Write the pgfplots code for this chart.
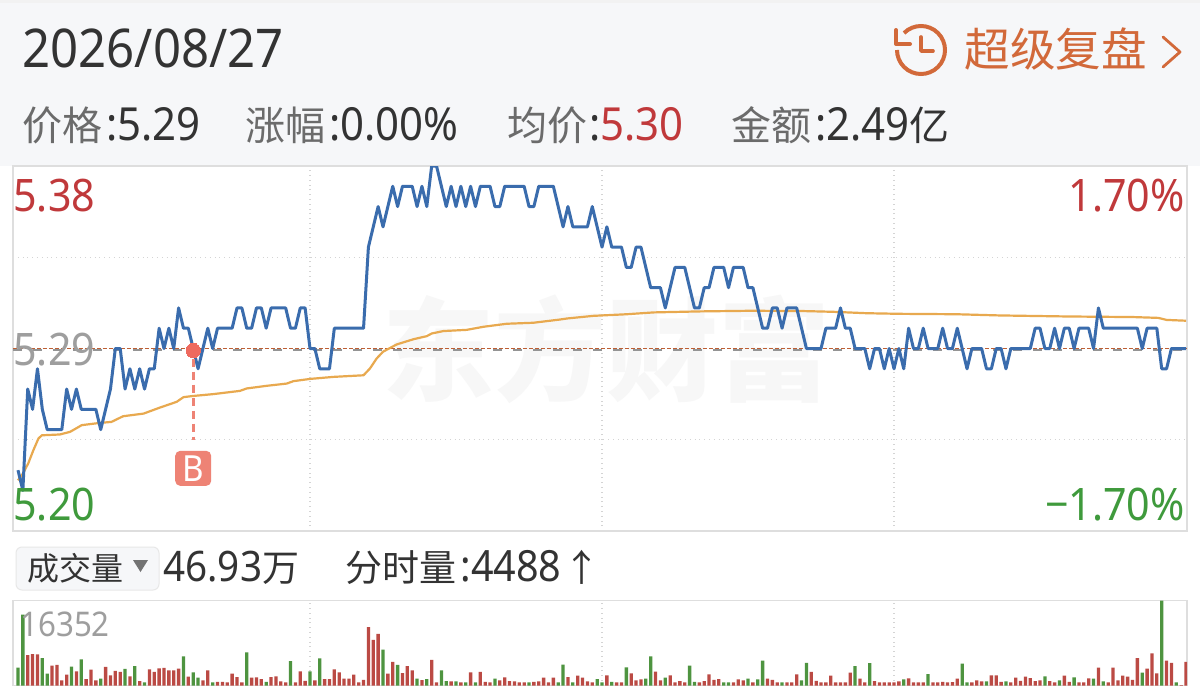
\documentclass[border=0pt]{standalone}
\usepackage{pgfplots}
\pgfplotsset{compat=1.18}
\usepackage{fontspec}
\setmainfont{Noto Sans CJK SC}
\newfontfamily\num[FakeStretch=0.92]{Noto Sans}
\newcommand\fs[1]{\fontsize{#1}{#1}\selectfont}
\definecolor{hdr}{HTML}{F6F7F9}
\definecolor{blueline}{HTML}{3A6CAD}
\definecolor{avgline}{HTML}{E8A94F}
\definecolor{upred}{HTML}{BB4A44}
\definecolor{dngreen}{HTML}{4E9440}
\definecolor{lblred}{HTML}{C0393B}
\definecolor{lblgreen}{HTML}{3F9A3C}
\definecolor{lblgray}{HTML}{9E9E9E}
\definecolor{cntxt}{HTML}{6B6B6B}
\definecolor{dark}{HTML}{333333}
\definecolor{orng}{HTML}{D2693A}
\definecolor{bord}{HTML}{DEDEDE}
\definecolor{gridc}{HTML}{D4D4D4}
\definecolor{markr}{HTML}{EE6A5F}
\definecolor{markb}{HTML}{EE8375}
\pgfplotstableread{
i v
2 5850
3 6045
4 5980
7 3835
8 3965
9 975
10 2080
12 2730
14 1235
15 3055
16 975
18 3575
19 1950
20 2795
21 2600
23 1755
25 845
27 3120
28 2600
29 3315
30 3380
31 2925
32 2925
33 3250
35 1690
38 975
39 2925
41 715
42 715
43 585
44 2275
45 1625
46 585
48 1495
49 1560
50 1235
52 1625
53 1755
54 780
55 585
57 585
58 2730
59 910
61 975
63 1235
64 1235
65 3120
66 2535
67 1300
68 1300
69 2080
70 585
71 1105
72 11245
73 8775
74 9945
76 2275
77 4550
79 2405
80 3705
81 2925
83 1040
85 4940
86 585
89 780
91 585
93 2535
95 2600
96 715
97 585
99 975
100 1560
101 845
102 780
103 585
104 585
106 715
107 780
108 1495
109 585
110 1495
113 1625
115 1885
116 1495
117 780
118 585
121 1950
123 585
124 585
126 2340
127 975
128 1170
131 2665
132 975
134 1950
135 585
136 845
137 585
140 585
141 845
142 2145
143 1105
144 1235
147 585
148 1170
149 975
151 585
154 1300
155 1105
156 585
158 585
159 585
160 2145
163 2600
164 910
165 585
166 585
167 1885
168 585
169 585
170 585
171 2470
173 1300
174 585
176 845
177 585
178 585
179 585
180 585
181 780
183 1365
184 585
185 585
186 585
188 585
189 585
190 715
191 585
192 650
193 1300
196 585
197 975
198 780
200 1950
201 1950
202 715
204 585
205 1495
206 910
207 1690
208 1430
209 845
210 975
212 845
213 585
215 1885
216 715
218 585
219 585
220 1365
222 3445
224 585
225 3445
226 975
227 1885
228 1690
229 1105
230 5265
232 3250
233 6175
234 2340
236 4810
237 4355
239 65
240 4550
}\volred
\pgfplotstableread{
i v
0 3445
1 13650
5 5265
6 2275
11 3640
13 5005
17 1300
22 3185
24 3705
26 585
34 5590
36 2535
37 1495
40 585
47 6370
51 715
56 4680
60 2730
62 5200
75 6890
78 3965
82 1300
84 1235
87 2925
88 845
90 780
92 585
94 585
98 1300
105 585
111 585
112 4030
114 585
119 1235
120 585
122 715
125 3510
129 1300
130 5590
133 1495
138 3835
139 715
145 585
146 585
150 1300
152 1170
153 4810
157 585
161 975
162 4355
172 3705
175 4290
182 1170
187 2210
194 4225
195 585
199 780
203 780
211 1755
214 975
217 1560
221 1300
223 780
231 2470
235 16352
238 585
}\volgreen
\begin{document}
\begin{tikzpicture}[x=0.5pt,y=-0.5pt]
\useasboundingbox (0,0) rectangle (1200,696);
\fill[white] (0,0) rectangle (1200,696);
\fill[hdr] (0,0) rectangle (1200,166);
\fill[black!5] (0,0) rectangle (1200,3);
% watermark
\node[anchor=center,inner sep=0,text=black!3] at (606,349) {\fs{56pt}\bfseries 东方财富};
% header text
\node[anchor=base west,inner sep=0,text=dark] at (22,68) {\num\fs{26.7pt}2026/08/27};
\node[anchor=base west,inner sep=0,text=cntxt] at (22,140) {\fs{20pt}价格\hspace{2pt}\textcolor{dark}{\num\fs{22.8pt}:5.29}};
\node[anchor=base west,inner sep=0,text=cntxt] at (245,140) {\fs{20pt}涨幅\hspace{2pt}\textcolor{dark}{\num\fs{22.8pt}:0.00\%}};
\node[anchor=base west,inner sep=0,text=cntxt] at (507,140) {\fs{20pt}均价\hspace{1pt}\textcolor{dark}{\num\fs{22.8pt}:}\textcolor{lblred}{\num\fs{22.8pt}5.30}};
\node[anchor=base west,inner sep=0,text=cntxt] at (731,140) {\fs{20pt}金额\hspace{2pt}\textcolor{dark}{\num\fs{22.8pt}:2.49\fs{20pt}\rmfamily 亿}};
\node[anchor=base west,inner sep=0,text=orng] at (964,66) {\fs{22.8pt}超级复盘};
\draw[orng,line width=1.4pt,line cap=round,line join=round] (1163,37) -- (1180,52) -- (1163,67);
\begin{scope}[shift={(921,50)},x=0.5pt,y=0.5pt]
\draw[orng,line width=2pt] (135:24) arc[start angle=135,end angle=-180,radius=12pt];
\draw[orng,line width=2pt,line cap=round,line join=round] (-25,20) -- (-25,6) -- (-11,6);
\draw[orng,line width=1.8pt,line cap=round,line join=round] (0,13) -- (0,-1) -- (12,-1);
\end{scope}
% main axis
\begin{axis}[at={(6.5pt,-265.5pt)},anchor=south west,scale only axis,width=587pt,height=182.5pt,
 xmin=-1.027,xmax=240.2,ymin=5.20,ymax=5.38,
 xtick={60,120,180},ytick={5.245,5.335},xticklabels={},yticklabels={},
 major tick length=0pt,grid=major,
 major grid style={gridc,dotted,line width=0.6pt},
 axis line style={bord,line width=0.9pt},clip=true]
\addplot[black!42,line width=1pt,dash pattern=on 4.5pt off 5.5pt,forget plot] coordinates {(-1.027,5.2895)(240.2,5.2895)};
\addplot[orng!90!black,line width=0.35pt,dash pattern=on 2pt off 1pt,forget plot] coordinates {(-1.027,5.29)(240.2,5.29)};
\addplot[avgline,line width=1.1pt,line join=round] coordinates {
(0,5.225)(1,5.2283)(2.1,5.2333)(3.15,5.2398)(4.2,5.2456)(4.9,5.2472)(8.6,5.2476)(10.7,5.2489)(13.1,5.2522)(16.8,5.2533)(19.2,5.2538)(21.6,5.2566)(25.8,5.2579)(29.2,5.2609)(32.6,5.2637)(34,5.266)(36,5.2666)(40.1,5.2675)(45.6,5.2691)(47,5.2703)(51.1,5.2716)(55.2,5.2727)(56.6,5.2739)(60,5.275)(64.8,5.276)(71,5.2768)(72.3,5.2801)(73.7,5.2851)(75,5.2884)(77.8,5.292)(81.3,5.2946)(84,5.2961)(85,5.2974)(87.4,5.2986)(92.2,5.2992)(95.6,5.3007)(100.4,5.3022)(105.9,5.3027)(111.4,5.3043)(112.8,5.3048)(118.2,5.3061)(125.1,5.3069)(130.6,5.3078)(140.2,5.3083)(150.4,5.3086)(160.7,5.3085)(167.5,5.3081)(174.4,5.3074)(181.2,5.3071)(192.8,5.3069)(201.8,5.3063)(215.5,5.3058)(229.2,5.3055)(234.3,5.3051)(236,5.3041)(240,5.3037)};
\addplot[blueline,line width=1.5pt,line join=round] coordinates {
(0,5.23)(1,5.22)(2,5.27)(3,5.26)(4,5.28)(5,5.26)(6,5.25)(7,5.25)(8,5.25)(9,5.25)
(10,5.27)(11,5.26)(12,5.27)(13,5.26)(14,5.26)(15,5.26)(16,5.26)(17,5.25)(18,5.26)(19,5.27)
(20,5.29)(21,5.29)(22,5.27)(23,5.28)(24,5.27)(25,5.28)(26,5.27)(27,5.28)(28,5.28)(29,5.30)
(30,5.29)(31,5.30)(32,5.29)(33,5.31)(34,5.30)(35,5.30)(36,5.29)(37,5.28)(38,5.29)(39,5.30)
(40,5.29)(41,5.30)(42,5.30)(43,5.30)(44,5.30)(45,5.31)(46,5.31)(47,5.30)(48,5.30)(49,5.31)
(50,5.31)(51,5.30)(52,5.31)(53,5.31)(54,5.31)(55,5.31)(56,5.30)(57,5.30)(58,5.31)(59,5.31)
(60,5.29)(61,5.29)(62,5.28)(63,5.28)(64,5.28)(65,5.30)(66,5.30)(67,5.30)(68,5.30)(69,5.30)
(70,5.30)(71,5.30)(72,5.34)(73,5.35)(74,5.36)(75,5.35)(76,5.36)(77,5.37)(78,5.36)(79,5.37)
(80,5.37)(81,5.37)(82,5.36)(83,5.37)(84,5.36)(85,5.38)(86,5.38)(87,5.37)(88,5.36)(89,5.37)
(90,5.36)(91,5.37)(92,5.36)(93,5.37)(94,5.36)(95,5.37)(96,5.37)(97,5.37)(98,5.36)(99,5.36)
(100,5.37)(101,5.37)(102,5.37)(103,5.37)(104,5.37)(105,5.36)(106,5.36)(107,5.37)(108,5.37)(109,5.37)
(110,5.37)(111,5.36)(112,5.35)(113,5.36)(114,5.35)(115,5.35)(116,5.35)(117,5.35)(118,5.36)(119,5.35)
(120,5.34)(121,5.35)(122,5.34)(123,5.34)(124,5.34)(125,5.33)(126,5.33)(127,5.34)(128,5.34)(129,5.33)
(130,5.32)(131,5.32)(132,5.32)(133,5.31)(134,5.32)(135,5.33)(136,5.33)(137,5.33)(138,5.32)(139,5.31)
(140,5.31)(141,5.32)(142,5.32)(143,5.33)(144,5.33)(145,5.33)(146,5.32)(147,5.33)(148,5.33)(149,5.33)
(150,5.32)(151,5.32)(152,5.31)(153,5.30)(154,5.30)(155,5.31)(156,5.31)(157,5.30)(158,5.31)(159,5.31)
(160,5.31)(161,5.30)(162,5.29)(163,5.29)(164,5.29)(165,5.29)(166,5.30)(167,5.30)(168,5.30)(169,5.31)
(170,5.30)(171,5.30)(172,5.29)(173,5.29)(174,5.29)(175,5.28)(176,5.29)(177,5.29)(178,5.28)(179,5.29)
(180,5.28)(181,5.29)(182,5.28)(183,5.30)(184,5.29)(185,5.29)(186,5.30)(187,5.29)(188,5.29)(189,5.29)
(190,5.30)(191,5.29)(192,5.29)(193,5.30)(194,5.29)(195,5.28)(196,5.29)(197,5.29)(198,5.29)(199,5.28)
(200,5.28)(201,5.29)(202,5.29)(203,5.28)(204,5.29)(205,5.29)(206,5.29)(207,5.29)(208,5.29)(209,5.30)
(210,5.30)(211,5.29)(212,5.29)(213,5.30)(214,5.29)(215,5.30)(216,5.30)(217,5.29)(218,5.30)(219,5.30)
(220,5.30)(221,5.29)(222,5.31)(223,5.30)(224,5.30)(225,5.30)(226,5.30)(227,5.30)(228,5.30)(229,5.30)
(230,5.30)(231,5.29)(232,5.30)(233,5.30)(234,5.30)(235,5.28)(236,5.28)(237,5.29)(238,5.29)(239,5.29)(240,5.29)};
\addplot[markb,line width=1.5pt,dash pattern=on 4pt off 2.5pt] coordinates {(36,5.285)(36,5.245)};
\addplot[only marks,color=markr,mark=*,mark size=3.6pt,mark options={fill=markr,draw=markr,line width=0pt}] coordinates {(36,5.289)};
\node[fill=markb,rounded corners=2.5pt,minimum width=18pt,minimum height=17.5pt,inner sep=0,text=white] at (axis cs:36,5.2309) {\num\bfseries\fs{18pt}B};
\end{axis}
% axis labels
\node[anchor=base west,inner sep=0,text=lblred] at (13,211) {\num\fs{22.4pt}5.38};
\node[anchor=base west,inner sep=0,text=lblgray] at (13,365) {\num\fs{22.4pt}5.29};
\node[anchor=base west,inner sep=0,text=lblgreen] at (13,520) {\num\fs{22.4pt}5.20};
\node[anchor=base east,inner sep=0,text=lblred] at (1185,211) {\num\fs{22.4pt}1.70\%};
\node[anchor=base east,inner sep=0,text=lblgreen] at (1185,520) {\num\fs{22.4pt}−1.70\%};
% volume header
\draw[bord!70,fill=hdr,rounded corners=3pt,line width=0.5pt] (16,547) rectangle (159,590);
\node[anchor=base west,inner sep=0,text=dark] at (27,580) {\fs{16pt}成交量};
\fill[black!55] (133,560) -- (148,560) -- (140.5,572) -- cycle;
\node[anchor=base west,inner sep=0,text=dark] at (163,581) {\num\fs{21pt}46.93\rmfamily\fs{18.5pt}万};
\node[anchor=base west,inner sep=0,text=dark] at (345,581) {\fs{18.5pt}分时量\hspace{2pt}\num\fs{21.5pt}:4488\hspace{1pt}\rmfamily\fs{18.5pt}↑};
% volume axis
\begin{axis}[at={(6.5pt,-342.75pt)},anchor=south west,scale only axis,width=587pt,height=42.5pt,
 xmin=-1.027,xmax=240.2,ymin=0,ymax=16352,
 xtick={60,120,180},ytick=\empty,xticklabels={},
 major tick length=0pt,xmajorgrids=true,
 major grid style={gridc,dotted,line width=0.6pt},
 axis line style={bord,line width=0.7pt},
 ybar,bar width=1.65pt,bar shift=0pt,clip=true]
\addplot[fill=upred,draw=none] table[x=i,y=v] {\volred};
\addplot[fill=dngreen,draw=none] table[x=i,y=v] {\volgreen};
\end{axis}
\node[anchor=base west,inner sep=0,text=lblgray] at (20,636) {\num\fs{17pt}16352};
\end{tikzpicture}
\end{document}
